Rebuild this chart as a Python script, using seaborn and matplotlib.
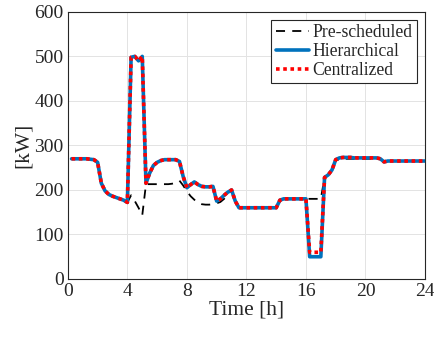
import numpy as np
import pandas as pd
import matplotlib
matplotlib.use("Agg")
import matplotlib.pyplot as plt
import seaborn as sns

# time axis, 15-min steps
time_h = np.arange(1, 97) * 0.25

hierarchical = (
    [270, 270, 270, 270, 270, 269, 268, 262,          # 0.25 - 2.0
     215, 198, 190, 186, 183, 180, 177, 172,          # 2.25 - 4.0
     498, 500, 490, 500, 215, 238, 255, 262,          # 4.25 - 6.0
     266, 268, 268, 268, 268, 264, 230, 205,          # 6.25 - 8.0
     212, 218, 212, 208, 207, 207, 208, 175,          # 8.25 - 10.0
     180, 188, 195, 200, 175, 160, 160, 160,          # 10.25 - 12.0
     160, 160, 160, 160, 160, 160, 160, 160,          # 12.25 - 14.0
     177, 180, 180, 180, 180, 180, 180, 180,          # 14.25 - 16.0
     50, 50, 50, 50, 228, 234, 245, 268,              # 16.25 - 18.0
     272, 273, 273, 273, 272, 272, 272, 272,          # 18.25 - 20.0
     272, 272, 272, 270, 263, 265, 265, 265,          # 20.25 - 22.0
     265, 265, 265, 265, 265, 265, 265, 265]          # 22.25 - 24.0
)

centralized = (
    [270, 270, 270, 270, 270, 269, 268, 262,
     215, 198, 190, 186, 183, 180, 177, 172,
     498, 500, 490, 500, 215, 238, 255, 262,
     266, 268, 268, 268, 268, 264, 230, 205,
     212, 218, 212, 208, 207, 207, 208, 175,
     180, 188, 195, 200, 175, 160, 160, 160,
     160, 160, 160, 160, 160, 160, 160, 160,
     177, 180, 180, 180, 180, 180, 180, 180,
     60, 60, 60, 60, 228, 234, 245, 268,
     272, 273, 273, 273, 272, 272, 272, 272,
     272, 272, 272, 270, 263, 265, 265, 265,
     265, 265, 265, 265, 265, 265, 265, 265]
)

pre_scheduled = (
    [270, 270, 270, 270, 270, 269, 268, 262,
     215, 198, 190, 186, 183, 180, 177, 172,
     188, 175, 160, 143, 213, 213, 213, 213,
     213, 213, 213, 214, 216, 221, 210, 197,
     186, 178, 171, 168, 167, 167, 168, 170,
     173, 180, 191, 200, 175, 160, 160, 160,
     160, 160, 160, 160, 160, 160, 160, 160,
     177, 180, 180, 180, 180, 180, 180, 180,
     180, 180, 180, 180, 228, 234, 245, 266,
     269, 270, 270, 270, 270, 270, 270, 270,
     270, 270, 270, 269, 264, 265, 265, 265,
     265, 265, 265, 265, 265, 265, 265, 265]
)

df = pd.DataFrame({'t': time_h, 'pre': pre_scheduled,
                   'hier': hierarchical, 'cent': centralized})

sns.set_style("whitegrid")
plt.rcParams['font.family'] = ['Liberation Serif', 'DejaVu Serif']

fig = plt.figure(figsize=(4.35, 3.39), dpi=100)
ax = fig.add_axes([0.156, 0.177, 0.821, 0.788])

sns.lineplot(data=df, x='t', y='pre', ax=ax, color='black', lw=1.3,
             linestyle=(0, (5, 4)), label='Pre-scheduled')
sns.lineplot(data=df, x='t', y='hier', ax=ax, color='#0072BD', lw=2.6,
             label='Hierarchical')
sns.lineplot(data=df, x='t', y='cent', ax=ax, color='red', lw=2.6,
             linestyle=(0, (1, 1)), label='Centralized')

ax.set_xlim(0, 24)
ax.set_ylim(0, 600)
ax.set_xticks(range(0, 25, 4))
ax.set_yticks(range(0, 601, 100))
ax.set_xlabel('Time [h]', fontsize=15.5, labelpad=0)
ax.set_ylabel('[kW]', fontsize=15.5, labelpad=1)
ax.tick_params(labelsize=14, direction='in', length=3, pad=3,
               color='#262626', labelcolor='#262626')
ax.grid(True, color='#e3e3e3', lw=0.7)
for s in ax.spines.values():
    s.set_color('#262626')
    s.set_linewidth(0.8)

leg = ax.legend(loc='upper right', fontsize=12.7, handlelength=1.9,
                handletextpad=0.2, borderpad=0.25, labelspacing=0.1,
                fancybox=False, framealpha=1, borderaxespad=0.45)
leg.get_frame().set_edgecolor('#262626')
leg.get_frame().set_linewidth(0.8)

plt.savefig('out.png', dpi=100)
